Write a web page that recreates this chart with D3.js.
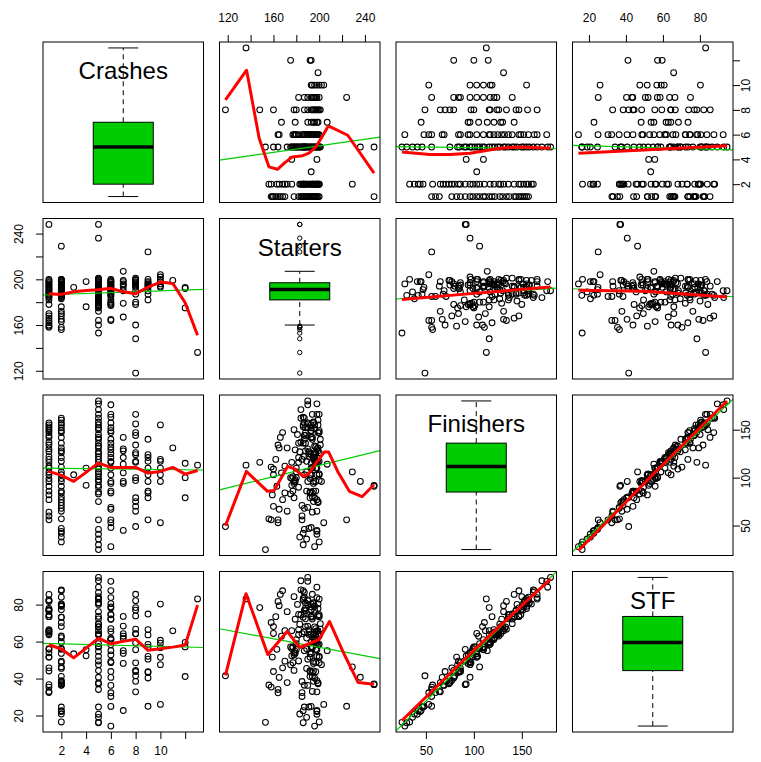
<!DOCTYPE html>
<html>
<head>
<meta charset="utf-8">
<script src="https://cdn.jsdelivr.net/npm/d3@7"></script>
<style>
  body { margin: 0; background: #fff; }
  svg { display: block; }
</style>
</head>
<body>
<svg id="chart" width="761" height="762"></svg>
<script>
// ---- data: one entry per race, grouped by number of crashes ----
const crashes = [
  1,1,1,1,1,1,1,1,1,1, 1,1,1,1,1,1,1,1,1,1, 1,1,1,1,1,1,1,1,
  2,2,2,2,2,2,2,2,2,2, 2,2,2,2,2,2,2,2,2,2, 2,2,2,2,2,2,2,2,2,2, 2,2,2,2,
  3,
  4,4,
  5,5,5,5,5,5,5,5,5,5, 5,5,5,5,5,5,5,5,5,5, 5,5,5,5,5,5,5,5,5,5, 5,5,5,5,5,5,5,5,
  6,6,6,6,6,6,6,6,6,6, 6,6,6,6,6,6,6,6,6,6, 6,6,6,6,6,6,6,
  7,7,7,7,7,7,7,7,7,
  8,8,8,8,8,8,8,8,8,8, 8,8,8,8,8,8,
  9,9,9,9,9,9,9,9,9,9, 9,
  10,10,10,10,10,10,10,
  11,
  12,12,12,
  13
];
const starters = [
  190,199,186,196,193,200,188,166,184,164,198,191,187,162,182,170,197,189,160,192,178,248,195,159,168,194,185,158,
  184,199,187,196,190,193,168,194,186,165,188,200,195,196,158,229,192,176,197,163,189,170,194,198,199,185,187,172,156,191,198,186,183,200,
  193,
  198,176,
  190,198,184,200,187,195,186,188,178,181,193,201,188,196,172,183,197,191,185,176,194,160,180,200,177,179,236,248,182,192,175,199,164,187,198,189,186,153,
  190,198,186,195,193,200,188,194,182,197,179,191,198,189,199,180,187,195,178,177,192,190,165,185,164,193,196,
  193,190,199,196,207,167,179,195,198,
  194,190,199,187,201,196,193,197,148,180,200,178,195,160,198,118,
  187,195,182,200,193,198,190,197,194,196,224,
  193,196,198,194,200,202,204,
  199,
  193,175,192,
  136
];
const finishers = [
  157,155,153,151,149,147,144,142,137,134,130,127,122,119,116,112,110,106,103,99,96,91,86,82,77,64,60,56,
  162,160,157,155,152,149,147,142,136,131,128,126,121,117,111,106,103,99,96,91,86,84,80,77,74,71,68,65,57,47,44,42,38,33,
  103,
  110,92,
  180,177,171,166,162,158,155,152,150,145,142,140,136,133,131,127,125,122,119,116,111,109,106,104,101,98,96,92,90,85,83,75,56,46,41,36,30,25,
  176,166,163,157,152,149,147,140,136,132,129,125,121,117,116,110,103,96,94,86,84,69,67,56,53,48,28,
  142,130,128,121,114,105,96,94,45,
  166,156,147,144,134,126,124,117,116,100,97,79,75,70,65,49,
  140,124,121,117,110,103,96,86,84,79,56,
  155,119,117,110,103,96,53,
  131,
  115,100,79,
  113
];
const stf = [
  82.6,77.9,82.3,77.0,77.2,73.5,76.6,85.5,74.5,81.7,65.7,66.5,65.2,73.5,63.7,65.9,55.8,56.1,64.4,51.6,53.9,36.7,44.1,51.6,45.8,33.0,32.4,35.4,
  88.0,80.4,84.0,79.1,80.0,77.2,87.5,73.2,73.1,79.4,68.1,63.0,62.1,59.7,70.3,46.3,53.6,56.3,48.7,55.8,45.5,49.4,41.2,38.9,37.2,38.4,36.4,37.8,36.5,24.6,22.2,22.6,20.8,16.5,
  53.4,
  55.6,52.3,
  94.7,89.4,92.9,83.0,86.6,81.0,83.3,80.9,84.3,80.1,73.6,69.7,72.3,67.9,76.2,69.4,63.5,63.9,64.3,65.9,57.2,68.1,58.9,52.0,57.1,54.7,40.7,37.1,49.5,44.3,47.4,37.7,34.1,24.6,20.7,19.0,16.1,16.3,
  92.6,83.8,87.6,80.5,78.8,74.5,78.2,72.2,74.7,67.0,72.1,65.4,61.1,61.9,58.3,61.1,55.1,49.2,52.8,48.6,43.8,36.3,40.6,30.3,32.3,24.9,14.3,
  73.6,68.4,64.3,61.7,55.1,62.9,53.6,48.2,22.7,
  85.6,82.1,73.9,77.0,66.7,64.3,64.2,59.4,78.4,55.6,48.5,44.4,38.5,43.8,32.8,41.5,
  74.9,63.6,66.5,58.5,57.0,52.0,50.5,43.7,43.3,40.3,25.0,
  80.3,60.7,59.1,56.7,51.5,47.5,26.0,
  65.8,
  59.6,57.1,41.1,
  83.1
];

const varNames = ["Crashes", "Starters", "Finishers", "STF"];

// local (robust) smoother of the row variable on the column variable, [x, y] in data units
const smoothCrashesOnStarters  = [[118,8.8],[136.5,11.2],[147.5,5.7],[156,3.4],[163.5,3.2],[169.5,3.7],[176.5,4.2],[185.5,4.3],[191,4.5],[197,5.0],[203,5.9],[208,6.7],[225,5.95],[248,2.9]];
const smoothCrashesOnFinishers = [[25,4.6],[54,4.4],[75,4.4],[96,4.5],[127,4.9],[148,5.0],[180,4.9]];
const smoothCrashesOnSTF       = [[14.3,4.5],[55,4.8],[94.7,5.1]];
const smoothStartersOnCrashes  = [[1,187.4],[2,186.8],[3,189.1],[4,190.3],[5,190.9],[6,192.1],[7,189.1],[8,187.4],[9,193.2],[10,197.6],[11,196.4],[12,179.5],[13,151.1]];
const smoothStartersOnFinishers = [[25,182.4],[100,187.7],[180,193.2]];
const smoothStartersOnSTF      = [[14.3,190.5],[50,189.5],[94.7,184.5]];
const smoothFinishersOnCrashes = [[1,106.5],[2,102.3],[3,96.1],[4,105.5],[5,115.2],[6,110.7],[7,110.7],[8,110.7],[9,104.8],[10,106.5],[11,110.7],[12,103.7],[13,107.5]];
const smoothFinishersOnStarters = [[118,49.9],[136.3,106.5],[154.8,85.7],[160.6,86.7],[172.3,111.7],[178.2,109.3],[186.1,101.3],[190.7,103.7],[197.2,115.2],[204.5,126.7],[208.3,126.7],[216.2,106.5],[226.4,85.7],[237.5,80.1],[248,92.6]];
const smoothFinishersOnSTF     = [[14.3,24],[55,104],[94.7,180]];
const smoothSTFOnCrashes       = [[1,58.3],[2,56.0],[3,51.2],[4,56.5],[5,61.9],[6,58.8],[7,60.1],[8,61.3],[9,55.3],[10,56.1],[11,57.0],[12,58.1],[13,79.7]];
const smoothSTFOnStarters      = [[118,41.7],[136,85.9],[155,53],[172,65.5],[183,56.8],[200,61.2],[209,70.9],[222,53],[234,37.9],[248,36.9]];
const smoothSTFOnFinishers     = [[25,17.3],[100.6,55.6],[180,93.9]];

// axis ticks and the labels printed at them ("" = tick without label)
const crashTicks = [2, 4, 6, 8, 10, 12];
const crashTickLabels = ["2", "4", "6", "8", "10", ""];
const starterTicks = [120, 140, 160, 180, 200, 220, 240];
const starterTickLabels = ["120", "", "160", "", "200", "", "240"];
const finisherTicks = [50, 100, 150];
const finisherTickLabels = ["50", "100", "150"];
const stfTicks = [20, 40, 60, 80];
const stfTickLabels = ["20", "40", "60", "80"];

// ---- layout ----
const FONT = "'Liberation Sans', Arial, Helvetica, sans-serif";
const ML = 43, MT = 42, PS = 160.5, GAP = 16;
const TICK = 7;
const LABOFF = { top: 24, bottom: 19, left: 24, right: 13 };
const pos = k => k * (PS + GAP);

const series = [crashes, starters, finishers, stf];
const tickVals = [crashTicks, starterTicks, finisherTicks, stfTicks];
const tickText = [crashTickLabels, starterTickLabels, finisherTickLabels, stfTickLabels];
const smoothers = {
  "0,1": smoothCrashesOnStarters, "0,2": smoothCrashesOnFinishers, "0,3": smoothCrashesOnSTF,
  "1,0": smoothStartersOnCrashes, "1,2": smoothStartersOnFinishers, "1,3": smoothStartersOnSTF,
  "2,0": smoothFinishersOnCrashes, "2,1": smoothFinishersOnStarters, "2,3": smoothFinishersOnSTF,
  "3,0": smoothSTFOnCrashes, "3,1": smoothSTFOnStarters, "3,2": smoothSTFOnFinishers
};

// each variable spans its data range plus 4% on both sides
const domains = series.map(v => {
  const [lo, hi] = d3.extent(v);
  const p = (hi - lo) * 0.04;
  return [lo - p, hi + p];
});
const xS = domains.map((d, k) => d3.scaleLinear().domain(d).range([ML + pos(k), ML + pos(k) + PS]));
const yS = domains.map((d, k) => d3.scaleLinear().domain(d).range([MT + pos(k) + PS, MT + pos(k)]));

// ---- statistics ----
function linReg(xs, ys) {
  const mx = d3.mean(xs), my = d3.mean(ys);
  let sxy = 0, sxx = 0;
  xs.forEach((v, k) => { sxy += (v - mx) * (ys[k] - my); sxx += (v - mx) ** 2; });
  const b = sxy / sxx;
  return { a: my - b * mx, b };
}

function fivenum(v) {
  const s = v.slice().sort((a, b) => a - b), n = s.length;
  const n4 = Math.floor((n + 3) / 2) / 2;
  return [1, n4, (n + 1) / 2, n + 1 - n4, n].map(p => 0.5 * (s[Math.floor(p) - 1] + s[Math.ceil(p) - 1]));
}

function boxStats(v) {
  const f = fivenum(v);
  const iqr = f[3] - f[1];
  const lo = f[1] - 1.5 * iqr, hi = f[3] + 1.5 * iqr;
  const inside = v.filter(d => d >= lo && d <= hi);
  return {
    q1: f[1], med: f[2], q3: f[3],
    wlo: d3.min(inside), whi: d3.max(inside),
    out: v.filter(d => d < lo || d > hi)
  };
}

// ---- drawing ----
const svg = d3.select("#chart");
svg.append("rect").attr("width", 761).attr("height", 762).attr("fill", "#fff");
const defs = svg.append("defs");

function drawScatter(g, i, j) {
  const x = xS[j], y = yS[i];
  const xs = series[j], ys = series[i];
  const id = `clip${i}${j}`;
  defs.append("clipPath").attr("id", id).append("rect")
    .attr("x", ML + pos(j)).attr("y", MT + pos(i)).attr("width", PS).attr("height", PS);
  const inner = g.append("g").attr("clip-path", `url(#${id})`);

  inner.selectAll("circle").data(xs).join("circle")
    .attr("cx", d => x(d))
    .attr("cy", (d, k) => y(ys[k]))
    .attr("r", 2.9)
    .attr("fill", "none").attr("stroke", "#000").attr("stroke-width", 1.05);

  // least-squares line across the whole panel
  const fit = linReg(xs, ys);
  const [d0, d1] = x.domain();
  inner.append("line")
    .attr("x1", x(d0)).attr("y1", y(fit.a + fit.b * d0))
    .attr("x2", x(d1)).attr("y2", y(fit.a + fit.b * d1))
    .attr("stroke", "#00CD00").attr("stroke-width", 1.2);

  // smoother
  inner.append("path")
    .attr("d", d3.line().x(p => x(p[0])).y(p => y(p[1]))(smoothers[`${i},${j}`]))
    .attr("fill", "none").attr("stroke", "#FF0000")
    .attr("stroke-width", 3).attr("stroke-linejoin", "round");
}

function drawDiagonal(g, k) {
  const v = series[k], y = yS[k];
  const cx = ML + pos(k) + PS / 2;
  const st = boxStats(v);
  const bw = 30, sw = 15;
  g.append("line").attr("x1", cx).attr("x2", cx).attr("y1", y(st.wlo)).attr("y2", y(st.q1))
    .attr("stroke", "#000").attr("stroke-dasharray", "5,4");
  g.append("line").attr("x1", cx).attr("x2", cx).attr("y1", y(st.q3)).attr("y2", y(st.whi))
    .attr("stroke", "#000").attr("stroke-dasharray", "5,4");
  [st.wlo, st.whi].forEach(val => {
    g.append("line").attr("x1", cx - sw).attr("x2", cx + sw).attr("y1", y(val)).attr("y2", y(val))
      .attr("stroke", "#000");
  });
  g.append("rect")
    .attr("x", cx - bw).attr("y", y(st.q3))
    .attr("width", 2 * bw).attr("height", y(st.q1) - y(st.q3))
    .attr("fill", "#00CD00").attr("stroke", "#000");
  g.append("line").attr("x1", cx - bw).attr("x2", cx + bw).attr("y1", y(st.med)).attr("y2", y(st.med))
    .attr("stroke", "#000").attr("stroke-width", 3.5);
  g.selectAll("circle.out").data(st.out).join("circle").attr("class", "out")
    .attr("cx", cx).attr("cy", d => y(d)).attr("r", 2.2)
    .attr("fill", "none").attr("stroke", "#000");
  g.append("text")
    .attr("x", cx).attr("y", MT + pos(k) + 37)
    .attr("text-anchor", "middle")
    .attr("font-family", FONT).attr("font-size", 24)
    .text(varNames[k]);
}

for (let i = 0; i < 4; i++) {
  for (let j = 0; j < 4; j++) {
    const g = svg.append("g");
    if (i === j) drawDiagonal(g, i); else drawScatter(g, i, j);
    g.append("rect")
      .attr("x", ML + pos(j)).attr("y", MT + pos(i))
      .attr("width", PS).attr("height", PS)
      .attr("fill", "none").attr("stroke", "#000").attr("stroke-width", 1);
  }
}

function drawAxis(side, k) {
  const t = tickVals[k], lab = tickText[k];
  let ax, tr;
  if (side === "top") { ax = d3.axisTop(xS[k]); tr = `translate(0,${MT})`; }
  else if (side === "bottom") { ax = d3.axisBottom(xS[k]); tr = `translate(0,${MT + pos(3) + PS})`; }
  else if (side === "left") { ax = d3.axisLeft(yS[k]); tr = `translate(${ML},0)`; }
  else { ax = d3.axisRight(yS[k]); tr = `translate(${ML + pos(3) + PS},0)`; }
  ax.tickValues(t).tickFormat((d, i) => lab[i]).tickSize(TICK);
  const g = svg.append("g").attr("transform", tr).call(ax);
  g.select(".domain").remove();
  g.attr("font-family", FONT).attr("font-size", 12);
  g.selectAll(".tick line").attr("stroke", "#000");
  const txt = g.selectAll(".tick text").attr("fill", "#000");
  if (side === "top" || side === "bottom") {
    txt.attr("y", side === "top" ? -LABOFF.top : LABOFF.bottom).attr("dy", "0.35em");
  } else {
    const off = side === "left" ? -LABOFF.left : LABOFF.right;
    txt.attr("x", 0).attr("dy", "0.35em").attr("text-anchor", "middle")
      .attr("transform", `translate(${off},0) rotate(-90)`);
  }
}

[1, 3].forEach(k => drawAxis("top", k));
[0, 2].forEach(k => drawAxis("bottom", k));
[1, 3].forEach(k => drawAxis("left", k));
[0, 2].forEach(k => drawAxis("right", k));
</script>
</body>
</html>
